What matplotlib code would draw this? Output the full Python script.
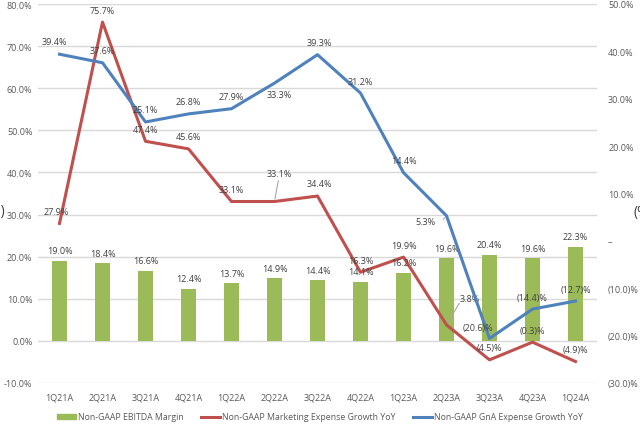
import numpy as np
import matplotlib
matplotlib.use("Agg")
import matplotlib.pyplot as plt
from matplotlib.ticker import FuncFormatter

plt.rcParams['font.family'] = ['Open Sans', 'DejaVu Sans']

quarters = ['1Q21A', '2Q21A', '3Q21A', '4Q21A', '1Q22A', '2Q22A', '3Q22A',
            '4Q22A', '1Q23A', '2Q23A', '3Q23A', '4Q23A', '1Q24A']
ebitda_margin = [19.0, 18.4, 16.6, 12.4, 13.7, 14.9, 14.4, 14.1, 16.2, 19.6, 20.4, 19.6, 22.3]
marketing_yoy = [27.9, 75.7, 47.4, 45.6, 33.1, 33.1, 34.4, 16.3, 19.9, 3.8, -4.5, -0.3, -4.9]
gna_yoy = [39.4, 37.6, 25.1, 26.8, 27.9, 33.3, 39.3, 31.2, 14.4, 5.3, -20.6, -14.4, -12.7]

green = '#9BBB59'
red = '#C0504D'
blue = '#4F81BD'
txt = '#595959'

def pct(v):
    if v < 0:
        return '(%.1f)%%' % abs(v)
    return '%.1f%%' % v

fig = plt.figure(figsize=(6.4, 4.27), dpi=100)
ax = fig.add_axes([38 / 640, 1 - 384 / 427, 559 / 640, 379 / 427])
ax2 = ax.twinx()

x = np.arange(len(quarters))
ax.bar(x, ebitda_margin, width=0.37, color=green, zorder=2)
ax.plot(x, marketing_yoy, color=red, lw=2.2, zorder=3)
ax2.plot(x, gna_yoy, color=blue, lw=2.2, zorder=3)

ax.set_xlim(-0.5, len(quarters) - 0.5)
ax.set_ylim(-10, 80)
ax.set_yticks(np.arange(-10, 81, 10))
ax.yaxis.set_major_formatter(FuncFormatter(lambda v, p: '%.1f%%' % v))
ax2.set_ylim(-30, 50)
ax2.set_yticks(np.arange(-30, 51, 10))

def right_fmt(v, p):
    if abs(v) < 1e-9:
        return '–'
    return pct(v)
ax2.yaxis.set_major_formatter(FuncFormatter(right_fmt))

ax.set_xticks(x)
ax.set_xticklabels(quarters)
ax.grid(axis='y', color='#D9D9D9', lw=1, zorder=0)
ax.set_axisbelow(True)
for a in (ax, ax2):
    for s in a.spines.values():
        s.set_visible(False)
    a.tick_params(length=0, labelsize=6.5, colors=txt)
ax.tick_params(axis='x', pad=7)
ax.tick_params(axis='y', pad=4)
ax2.tick_params(axis='y', pad=8)

# bar labels
for i, v in enumerate(ebitda_margin):
    ax.annotate(pct(v), (i, v), xytext=(0, 10), textcoords='offset pixels',
                ha='center', va='center', fontsize=6.5, color='#404040', zorder=5)

# marketing labels (offset in pixels)
red_off = {i: (0, 12) for i in range(len(quarters))}
red_off[0] = (-3, 12)
red_off[5] = (5, 28)
red_off[6] = (2, 13)
red_off[9] = (23, 26)
for i, v in enumerate(marketing_yoy):
    dx, dy = red_off[i]
    ax.annotate(pct(v), (i, v), xytext=(dx, dy), textcoords='offset pixels',
                ha='center', va='center', fontsize=6.5, color='#404040', zorder=5)
# leader lines
ax.annotate('', (5, marketing_yoy[5]), xytext=(5.1, marketing_yoy[5] + 5.6),
            arrowprops=dict(arrowstyle='-', color='#A6A6A6', lw=0.8))
ax.annotate('', (9, marketing_yoy[9]), xytext=(9.33, marketing_yoy[9] + 5.7),
            arrowprops=dict(arrowstyle='-', color='#A6A6A6', lw=0.8))

# gna labels
blue_off = {i: (0, 12) for i in range(len(quarters))}
blue_off[0] = (-5, 13)
blue_off[5] = (5, -11)
blue_off[6] = (2, 12)
blue_off[9] = (-21, -6)
blue_off[10] = (-12, 11)
for i, v in enumerate(gna_yoy):
    dx, dy = blue_off[i]
    ax2.annotate(pct(v), (i, v), xytext=(dx, dy), textcoords='offset pixels',
                 ha='center', va='center', fontsize=6.5, color='#404040', zorder=5)
ax2.annotate('', (9, gna_yoy[9]), xytext=(8.88, gna_yoy[9] - 1.2),
             arrowprops=dict(arrowstyle='-', color='#A6A6A6', lw=0.8))

# clipped axis titles at the edges
fig.text(5 / 640, 1 - 212 / 427, '(%)', ha='right', va='center', fontsize=10, color='#404040')
fig.text(633 / 640, 1 - 213 / 427, '(%)', ha='left', va='center', fontsize=10, color='#404040')

handles = [plt.Rectangle((0, 0), 1, 1, color=green),
           plt.Line2D([], [], color=red, lw=2.2),
           plt.Line2D([], [], color=blue, lw=2.2)]
labels = ['Non-GAAP EBITDA Margin', 'Non-GAAP Marketing Expense Growth YoY',
          'Non-GAAP GnA Expense Growth YoY']
leg = fig.legend(handles, labels, loc='center', bbox_to_anchor=(0.5, 1 - 418 / 427),
                 ncol=3, frameon=False, fontsize=6.3, handlelength=2.2,
                 handleheight=0.6, columnspacing=2.0, handletextpad=0.2)
for t in leg.get_texts():
    t.set_color(txt)

fig.savefig('out.png', dpi=100)
